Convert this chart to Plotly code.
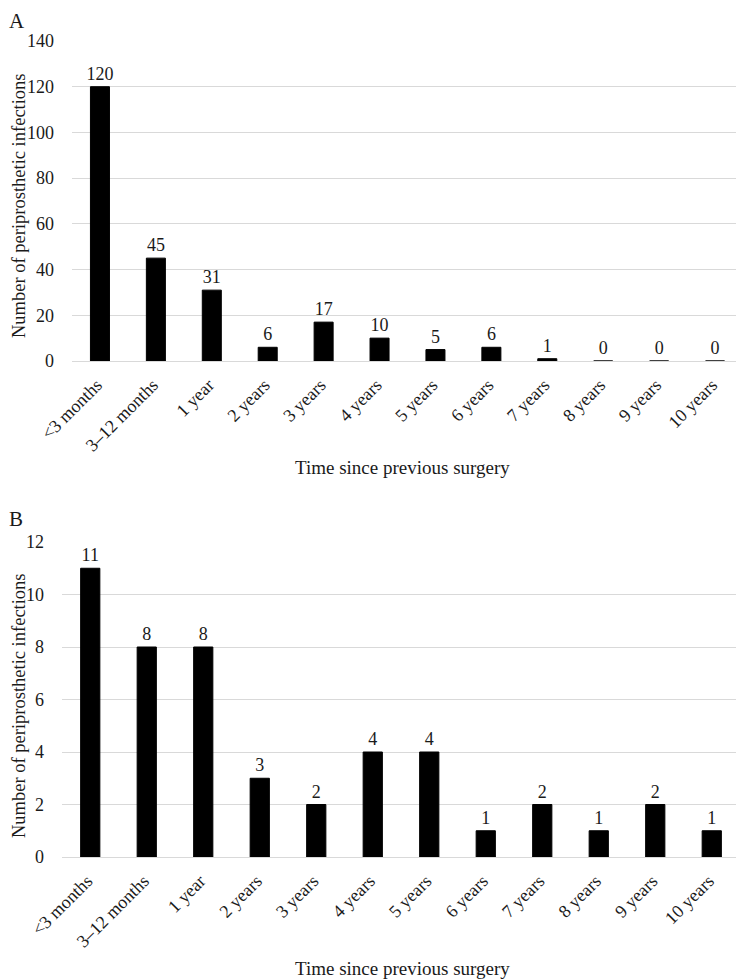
import plotly.graph_objects as go

categories = ["<3 months", "3–12 months", "1 year", "2 years", "3 years", "4 years",
              "5 years", "6 years", "7 years", "8 years", "9 years", "10 years"]
values_a = [120, 45, 31, 6, 17, 10, 5, 6, 1, 0, 0, 0]
values_b = [11, 8, 8, 3, 2, 4, 4, 1, 2, 1, 2, 1]
ticks_a = [0, 20, 40, 60, 80, 100, 120, 140]
ticks_b = [0, 2, 4, 6, 8, 10, 12]

# page body has an 8px margin; figure sized to fill the rest of the window
OFF = 8
W, H = 744 - OFF, 979 - OFF
FONT = "Liberation Serif"
GRID = "#d9d9d9"
TXT = "#1a1a1a"

def px_x(p):
    return (p - OFF) / W

def px_y(p):
    return 1 - (p - OFF) / H

fig = go.Figure()
fig.add_trace(go.Bar(x=categories, y=values_a, xaxis="x", yaxis="y",
                     marker=dict(color="black", line=dict(color="black", width=1)),
                     text=[str(v) for v in values_a], textposition="outside",
                     constraintext="none",
                     textfont=dict(family=FONT, size=18, color=TXT),
                     cliponaxis=False, showlegend=False))
fig.add_trace(go.Bar(x=categories, y=values_b, xaxis="x2", yaxis="y2",
                     marker=dict(color="black", line=dict(color="black", width=1)),
                     text=[str(v) for v in values_b], textposition="outside",
                     constraintext="none",
                     textfont=dict(family=FONT, size=18, color=TXT),
                     cliponaxis=False, showlegend=False))

xcommon = dict(tickangle=-45, tickfont=dict(family=FONT, size=18, color=TXT),
               showgrid=False, showline=False, zeroline=False, ticks="",
               ticklabelstandoff=9, ticklabelshift=-3, automargin=False)
ycommon = dict(showgrid=True, gridcolor=GRID, gridwidth=1.3, zeroline=True,
               zerolinecolor=GRID, zerolinewidth=1.3, showline=False,
               tickfont=dict(family=FONT, size=18, color=TXT),
               ticks="", ticklabelstandoff=17, automargin=False)

fig.update_layout(
    width=W, height=H, paper_bgcolor="white", plot_bgcolor="white",
    margin=dict(l=0, r=0, t=0, b=0, autoexpand=False), bargap=0.66,
    font=dict(family=FONT, color=TXT),
    xaxis=dict(domain=[px_x(72), px_x(743)], anchor="y", **xcommon),
    yaxis=dict(domain=[px_y(361), px_y(41)], anchor="x", range=[0, 140],
               tickvals=ticks_a, **ycommon),
    xaxis2=dict(domain=[px_x(62), px_x(740)], anchor="y2", **xcommon),
    yaxis2=dict(domain=[px_y(857), px_y(542)], anchor="x2", range=[0, 12],
                tickvals=ticks_b, **ycommon),
    annotations=[
        dict(text="A", x=px_x(8), y=px_y(8), xref="paper", yref="paper",
             xanchor="left", yanchor="top", showarrow=False, borderpad=0,
             font=dict(family=FONT, size=21, color=TXT)),
        dict(text="B", x=px_x(8), y=px_y(506), xref="paper", yref="paper",
             xanchor="left", yanchor="top", showarrow=False, borderpad=0,
             font=dict(family=FONT, size=21, color=TXT)),
        dict(text="Number of periprosthetic infections", x=px_x(8), y=px_y(206),
             xref="paper", yref="paper", textangle=-90, showarrow=False,
             xanchor="left", yanchor="middle", borderpad=0,
             font=dict(family=FONT, size=18.5, color=TXT)),
        dict(text="Number of periprosthetic infections", x=px_x(8), y=px_y(706),
             xref="paper", yref="paper", textangle=-90, showarrow=False,
             xanchor="left", yanchor="middle", borderpad=0,
             font=dict(family=FONT, size=18.5, color=TXT)),
        dict(text="Time since previous surgery", x=px_x(402), y=px_y(467),
             xref="paper", yref="paper", showarrow=False,
             xanchor="center", yanchor="middle",
             font=dict(family=FONT, size=19, color=TXT)),
        dict(text="Time since previous surgery", x=px_x(402), y=px_y(968),
             xref="paper", yref="paper", showarrow=False,
             xanchor="center", yanchor="middle",
             font=dict(family=FONT, size=19, color=TXT)),
    ],
)

fig.write_html("out.html")
